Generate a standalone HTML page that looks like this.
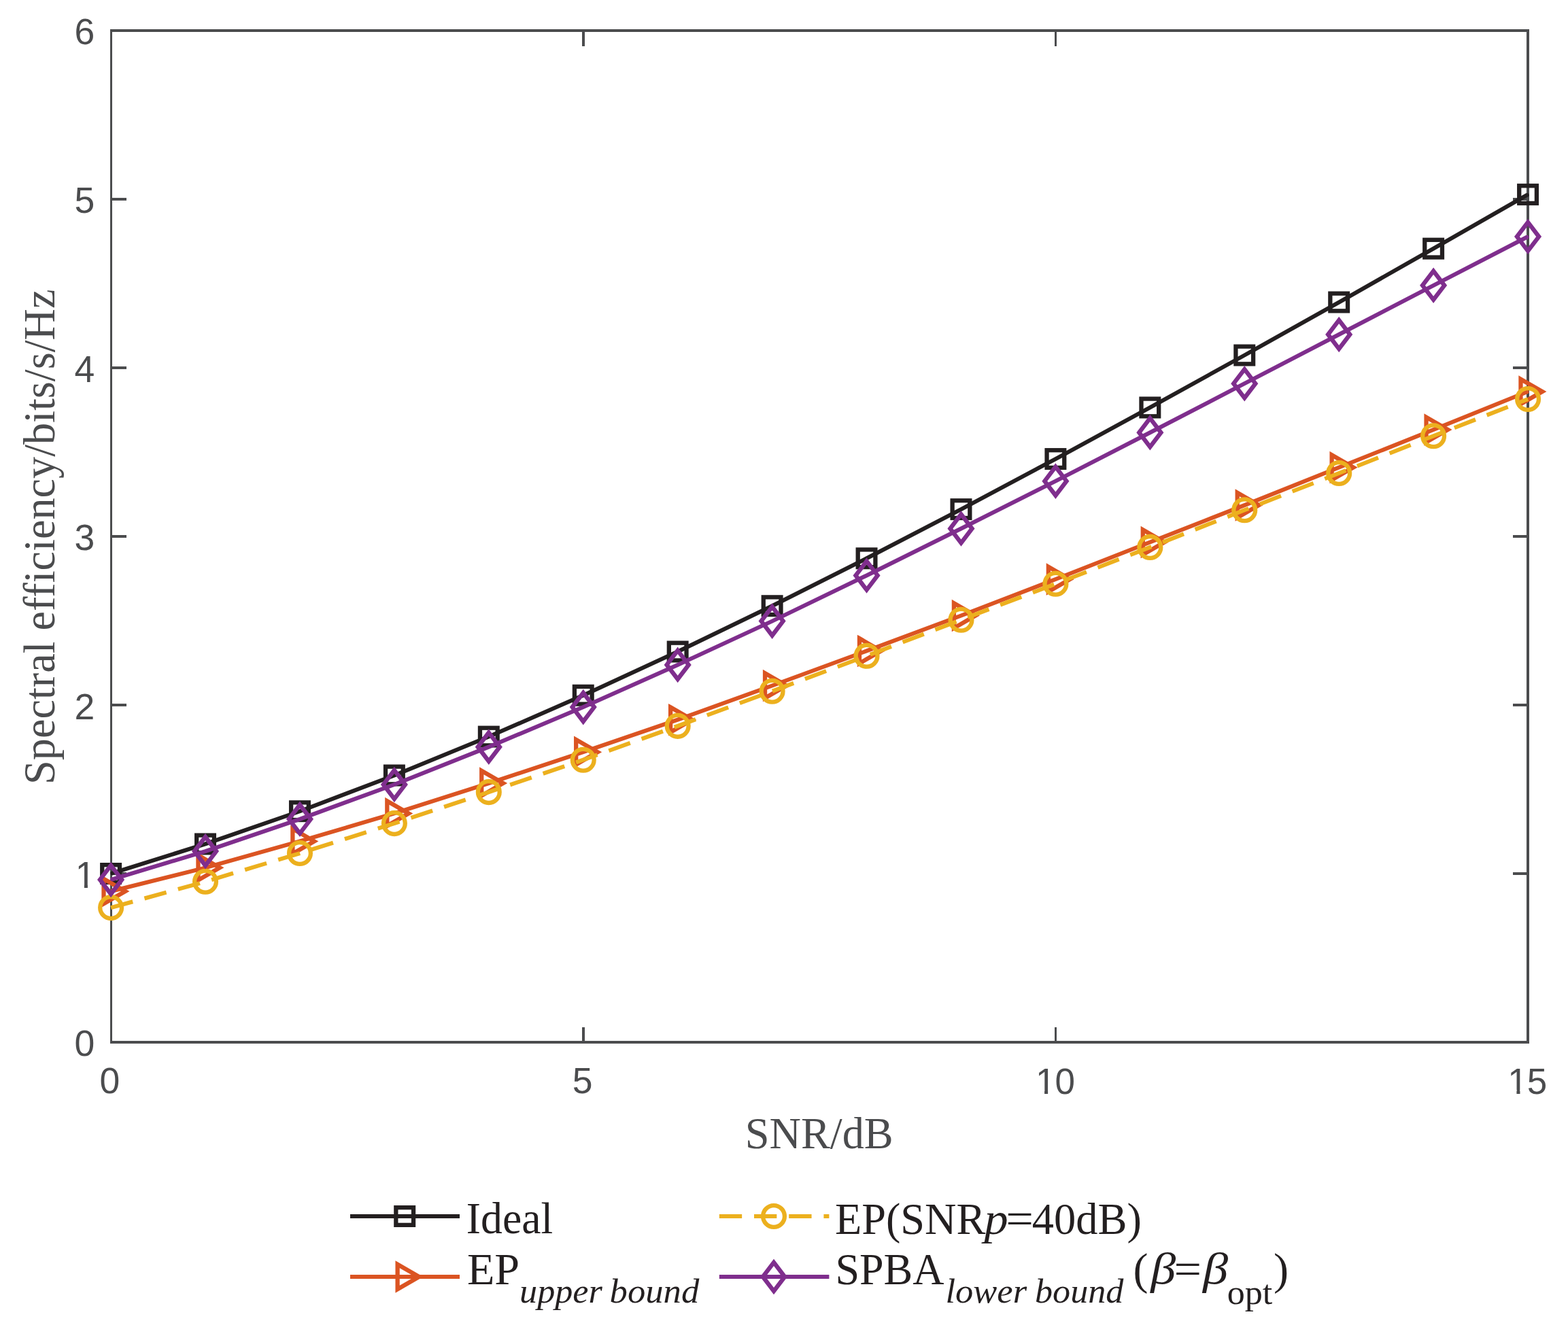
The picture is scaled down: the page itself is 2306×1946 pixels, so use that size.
<!DOCTYPE html>
<html lang="en">
<head>
<meta charset="utf-8">
<title>Spectral efficiency versus SNR</title>
<style>
html,body{margin:0;padding:0;background:#fff}
body{width:2306px;height:1946px;overflow:hidden}
svg{display:block}
.tick{font-family:"Liberation Sans",sans-serif;font-size:53px;fill:#4b4c4e}
.axl{font-family:"Liberation Serif",serif;font-size:65px;fill:#4b4c4e}
.leg{font-family:"Liberation Serif",serif;font-size:65px;fill:#231f20}
.i{font-style:italic}
.sub{font-size:51px}
.ser{fill:none;stroke-width:6;stroke-linejoin:round}
.mk{fill:none;stroke-width:6.3;stroke-linejoin:miter;stroke-miterlimit:10}
</style>
</head>
<body>
<svg width="2306" height="1946" viewBox="0 0 2306 1946">
<defs><clipPath id="one" clipPathUnits="userSpaceOnUse"><path d="M0 -45H70V5H28.6V-5.3H19.2V1.5H14.15V-5.3H0Z"/></clipPath></defs>
<rect x="0" y="0" width="2306" height="1946" fill="#ffffff"/>
<g fill="#4b4c4e" shape-rendering="crispEdges">
<rect x="162" y="43" width="3" height="1492"/>
<rect x="2245" y="43" width="4" height="1492"/>
<rect x="162" y="43" width="2087" height="4"/>
<rect x="162" y="1531" width="2087" height="4"/>
<rect x="856" y="1510.5" width="4" height="22.5"/>
<rect x="856" y="45" width="4" height="22.5"/>
<rect x="1551" y="1510.5" width="3" height="22.5"/>
<rect x="1551" y="45" width="3" height="22.5"/>
<rect x="163.5" y="1283" width="22.5" height="4"/>
<rect x="2224.5" y="1283" width="22.5" height="4"/>
<rect x="163.5" y="1035" width="22.5" height="4"/>
<rect x="2224.5" y="1035" width="22.5" height="4"/>
<rect x="163.5" y="787" width="22.5" height="4"/>
<rect x="2224.5" y="787" width="22.5" height="4"/>
<rect x="163.5" y="539" width="22.5" height="4"/>
<rect x="2224.5" y="539" width="22.5" height="4"/>
<rect x="163.5" y="291" width="22.5" height="4"/>
<rect x="2224.5" y="291" width="22.5" height="4"/>
</g>
<g class="tick">
<text transform="translate(109.6,1553.38) scale(1.01,1.0127)">0</text>
<text transform="translate(109.75,1305.9) scale(1,1.0421)" dx="1" clip-path="url(#one)">1</text>
<text transform="translate(109.6,1057.9) scale(1.01,1.0268)">2</text>
<text transform="translate(109.6,809.38) scale(1.01,1.0127)">3</text>
<text transform="translate(109.6,561.9) scale(1.01,1.0421)">4</text>
<text transform="translate(109.6,313.37) scale(1.01,1.0276)">5</text>
<text transform="translate(109.6,65.38) scale(1.01,1.0127)">6</text>
<text transform="translate(146.45,1608.28) scale(1.01,1.0073)">0</text>
<text transform="translate(841.65,1608.27) scale(1.01,1.0221)">5</text>
<text transform="translate(1521.92,1608.54) scale(1,1.0220)" dx="1 -1" clip-path="url(#one)">10</text>
<text transform="translate(2216.27,1608.53) scale(1,1.0294)" dx="1 -1" clip-path="url(#one)">15</text>
</g>
<text class="axl" x="1095.85" y="1689.4" textLength="217.77" lengthAdjust="spacingAndGlyphs">SNR/dB</text>
<text class="axl" transform="translate(80,1153.95) rotate(-90)" textLength="728.36" lengthAdjust="spacingAndGlyphs">Spectral efficiency/bits/s/Hz</text>
<g id="ideal">
<g class="ser"><polyline points="165.2,1284.34 302.03,1241.44 440.96,1193.21 579.89,1140.49 718.82,1083.56 857.75,1022.77 996.68,958.52 1135.61,891.22 1274.54,821.29 1413.47,749.12 1552.4,675.06 1691.33,599.43 1830.26,522.5 1969.19,444.51 2108.12,365.66 2245.66,286.9" stroke="#231f20" stroke-linecap="round"/></g>
<g class="mk" stroke="#231f20">
<rect x="150.25" y="1272.15" width="25.7" height="25.7"/>
<rect x="289.18" y="1228.59" width="25.7" height="25.7"/>
<rect x="428.11" y="1180.36" width="25.7" height="25.7"/>
<rect x="567.04" y="1127.64" width="25.7" height="25.7"/>
<rect x="705.97" y="1070.71" width="25.7" height="25.7"/>
<rect x="844.9" y="1009.92" width="25.7" height="25.7"/>
<rect x="983.83" y="945.67" width="25.7" height="25.7"/>
<rect x="1122.76" y="878.37" width="25.7" height="25.7"/>
<rect x="1261.69" y="808.44" width="25.7" height="25.7"/>
<rect x="1400.62" y="736.27" width="25.7" height="25.7"/>
<rect x="1539.55" y="662.21" width="25.7" height="25.7"/>
<rect x="1678.48" y="586.58" width="25.7" height="25.7"/>
<rect x="1817.41" y="509.65" width="25.7" height="25.7"/>
<rect x="1956.34" y="431.66" width="25.7" height="25.7"/>
<rect x="2095.27" y="352.81" width="25.7" height="25.7"/>
<rect x="2234.2" y="273.25" width="25.7" height="25.7"/>
</g>
</g>
<g id="ep-upper">
<g class="ser"><polyline points="165.23,1310.51 302.03,1276.32 440.96,1237.38 579.89,1196.46 718.82,1152.07 857.75,1106.19 996.68,1058.65 1135.61,1008.48 1274.54,957.39 1413.47,905.56 1552.4,851.99 1691.33,797.56 1830.26,743.1 1969.19,687.57 2108.12,631.94 2245.57,576.57" stroke="#db5422" stroke-linecap="round"/></g>
<g class="mk" stroke="#db5422">
<path d="M152.53 1292.74L184.23 1311.04L152.53 1329.34Z"/>
<path d="M291.46 1258.02L323.16 1276.32L291.46 1294.62Z"/>
<path d="M430.39 1219.08L462.09 1237.38L430.39 1255.68Z"/>
<path d="M569.32 1178.16L601.02 1196.46L569.32 1214.76Z"/>
<path d="M708.25 1133.77L739.95 1152.07L708.25 1170.37Z"/>
<path d="M847.18 1087.89L878.88 1106.19L847.18 1124.49Z"/>
<path d="M986.11 1040.35L1017.81 1058.65L986.11 1076.95Z"/>
<path d="M1125.04 990.18L1156.74 1008.48L1125.04 1026.78Z"/>
<path d="M1263.97 939.09L1295.67 957.39L1263.97 975.69Z"/>
<path d="M1402.9 887.26L1434.6 905.56L1402.9 923.86Z"/>
<path d="M1541.83 833.69L1573.53 851.99L1541.83 870.29Z"/>
<path d="M1680.76 779.26L1712.46 797.56L1680.76 815.86Z"/>
<path d="M1819.69 724.8L1851.39 743.1L1819.69 761.4Z"/>
<path d="M1958.62 669.27L1990.32 687.57L1958.62 705.87Z"/>
<path d="M2097.55 613.64L2129.25 631.94L2097.55 650.24Z"/>
<path d="M2236.48 557.67L2268.18 575.97L2236.48 594.27Z"/>
</g>
</g>
<g id="ep-snrp">
<g class="ser"><polyline points="163.1,1335.1 302.03,1296.8 440.96,1255.07 579.89,1211.1 718.82,1165.09 857.75,1117.7 996.68,1067.85 1135.61,1016.74 1274.54,964.73 1413.47,911.71 1552.4,858.81 1691.33,804.92 1830.26,750.31 1969.19,696 2108.12,641.32 2247.05,586.98" stroke="#ecb01e" stroke-linecap="butt" stroke-dasharray="33.35 17.85"/></g>
<g class="mk" stroke="#ecb01e">
<circle cx="163.1" cy="1335.1" r="15.9"/>
<circle cx="302.03" cy="1296.8" r="15.9"/>
<circle cx="440.96" cy="1255.07" r="15.9"/>
<circle cx="579.89" cy="1211.1" r="15.9"/>
<circle cx="718.82" cy="1165.09" r="15.9"/>
<circle cx="857.75" cy="1117.7" r="15.9"/>
<circle cx="996.68" cy="1067.85" r="15.9"/>
<circle cx="1135.61" cy="1016.74" r="15.9"/>
<circle cx="1274.54" cy="964.73" r="15.9"/>
<circle cx="1413.47" cy="911.71" r="15.9"/>
<circle cx="1552.4" cy="858.81" r="15.9"/>
<circle cx="1691.33" cy="804.92" r="15.9"/>
<circle cx="1830.26" cy="750.31" r="15.9"/>
<circle cx="1969.19" cy="696" r="15.9"/>
<circle cx="2108.12" cy="641.32" r="15.9"/>
<circle cx="2247.05" cy="586.98" r="15.9"/>
</g>
</g>
<g id="spba">
<g class="ser"><polyline points="165.21,1293.29 302.03,1252.09 440.96,1204.82 579.89,1153.96 718.82,1098.65 857.75,1040.1 996.68,977.9 1135.61,913.6 1274.54,846.46 1413.47,777.47 1552.4,707.66 1691.33,636.28 1830.26,564.19 1969.19,492 2108.12,419.8 2245.63,348.79" stroke="#7f2e8d" stroke-linecap="round"/></g>
<g class="mk" stroke="#7f2e8d">
<path d="M163.1 1272.83L179.2 1293.93L163.1 1315.03L147 1293.93Z"/>
<path d="M302.03 1230.99L318.13 1252.09L302.03 1273.19L285.93 1252.09Z"/>
<path d="M440.96 1183.72L457.06 1204.82L440.96 1225.92L424.86 1204.82Z"/>
<path d="M579.89 1132.86L595.99 1153.96L579.89 1175.06L563.79 1153.96Z"/>
<path d="M718.82 1077.55L734.92 1098.65L718.82 1119.75L702.72 1098.65Z"/>
<path d="M857.75 1019L873.85 1040.1L857.75 1061.2L841.65 1040.1Z"/>
<path d="M996.68 956.8L1012.78 977.9L996.68 999L980.58 977.9Z"/>
<path d="M1135.61 892.5L1151.71 913.6L1135.61 934.7L1119.51 913.6Z"/>
<path d="M1274.54 825.36L1290.64 846.46L1274.54 867.56L1258.44 846.46Z"/>
<path d="M1413.47 756.37L1429.57 777.47L1413.47 798.57L1397.37 777.47Z"/>
<path d="M1552.4 686.56L1568.5 707.66L1552.4 728.76L1536.3 707.66Z"/>
<path d="M1691.33 615.18L1707.43 636.28L1691.33 657.38L1675.23 636.28Z"/>
<path d="M1830.26 543.09L1846.36 564.19L1830.26 585.29L1814.16 564.19Z"/>
<path d="M1969.19 470.9L1985.29 492L1969.19 513.1L1953.09 492Z"/>
<path d="M2108.12 398.7L2124.22 419.8L2108.12 440.9L2092.02 419.8Z"/>
<path d="M2247.05 326.96L2263.15 348.06L2247.05 369.16L2230.95 348.06Z"/>
</g>
</g>
<g id="legend">
<g class="ser">
<line x1="515" y1="1789" x2="676" y2="1789" stroke="#231f20"/>
<line x1="515" y1="1878" x2="676" y2="1878" stroke="#db5422"/>
<line x1="1057.8" y1="1789" x2="1219.4" y2="1789" stroke="#ecb01e" stroke-dasharray="33.35 17.85"/>
<line x1="1057.8" y1="1878" x2="1219.4" y2="1878" stroke="#7f2e8d"/>
</g>
<g class="mk">
<rect x="582.35" y="1776.15" width="25.7" height="25.7" stroke="#231f20"/>
<path d="M584.63 1859.7L616.33 1878L584.63 1896.3Z" stroke="#db5422"/>
<circle cx="1138" cy="1789" r="15.9" stroke="#ecb01e"/>
<path d="M1138 1856.9L1154.1 1878L1138 1899.1L1121.9 1878Z" stroke="#7f2e8d"/>
</g>
<text class="leg"><tspan x="685.79" y="1813.7" textLength="127.4" lengthAdjust="spacingAndGlyphs">Ideal</tspan></text>
<text class="leg"><tspan x="686.92" y="1889.2" textLength="77.29" lengthAdjust="spacingAndGlyphs">EP</tspan><tspan class="i sub" x="764.05" y="1916.1" textLength="121.73" lengthAdjust="spacingAndGlyphs">upper</tspan><tspan> </tspan><tspan class="i sub" x="896.63" y="1916.1" textLength="131.65" lengthAdjust="spacingAndGlyphs">bound</tspan></text>
<text class="leg"><tspan x="1228.02" y="1815" textLength="221.23" lengthAdjust="spacingAndGlyphs">EP(SNR</tspan><tspan class="i" x="1447.43" y="1815" textLength="35.19" lengthAdjust="spacingAndGlyphs">p</tspan><tspan x="1479.37" y="1815" textLength="40.69" lengthAdjust="spacingAndGlyphs">=</tspan><tspan x="1517.81" y="1815" textLength="161.07" lengthAdjust="spacingAndGlyphs">40dB)</tspan></text>
<text class="leg"><tspan x="1228.46" y="1889.4" textLength="160.04" lengthAdjust="spacingAndGlyphs">SPBA</tspan><tspan class="i sub" x="1390.51" y="1916.1" textLength="119.56" lengthAdjust="spacingAndGlyphs">lower</tspan><tspan> </tspan><tspan class="i sub" x="1522.06" y="1916.1" textLength="130.33" lengthAdjust="spacingAndGlyphs">bound</tspan><tspan> </tspan><tspan x="1666.61" y="1889.4" textLength="21.97" lengthAdjust="spacingAndGlyphs">(</tspan><tspan class="i" x="1692.34" y="1888.4" textLength="36.89" lengthAdjust="spacingAndGlyphs">β</tspan><tspan x="1726.58" y="1889" textLength="40.58" lengthAdjust="spacingAndGlyphs">=</tspan><tspan class="i" x="1768.95" y="1888.4" textLength="37.08" lengthAdjust="spacingAndGlyphs">β</tspan><tspan class="sub" x="1804.76" y="1917.8" textLength="66.52" lengthAdjust="spacingAndGlyphs">opt</tspan><tspan x="1873.05" y="1889.4" textLength="22.17" lengthAdjust="spacingAndGlyphs">)</tspan></text>
</g>
</svg>
</body>
</html>
